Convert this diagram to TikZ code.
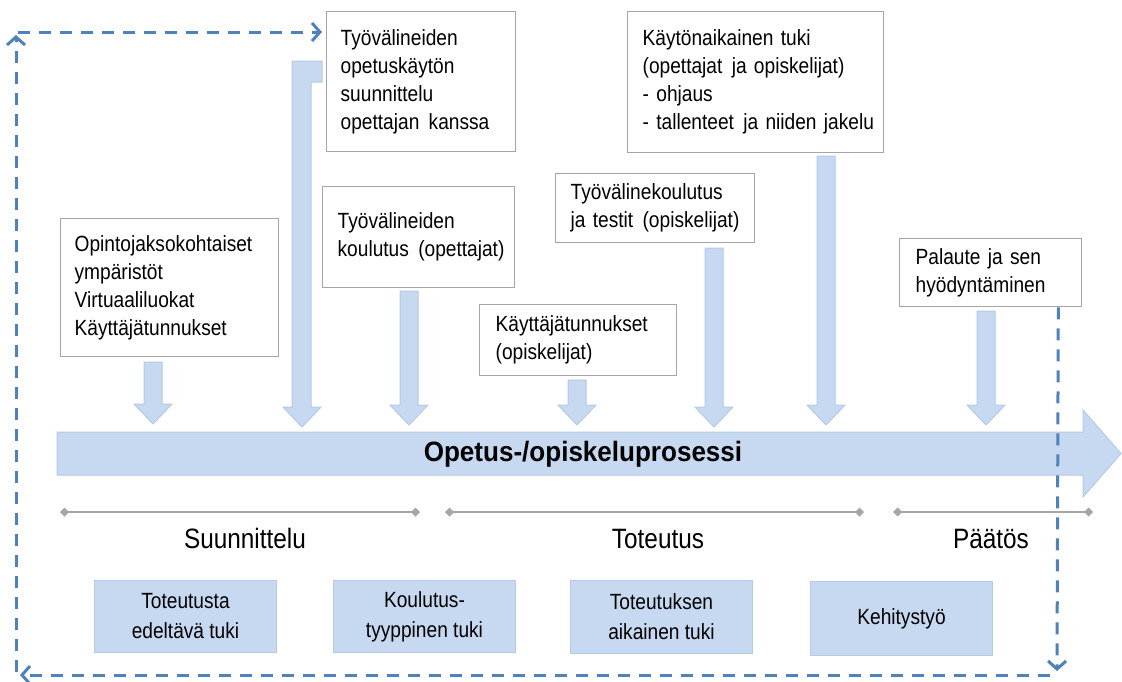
\documentclass[tikz,border=0pt]{standalone}
\usepackage{fontspec}
\setmainfont{Liberation Sans}[FakeStretch=0.87]
\newfontfamily\boldfont{Liberation Sans}[FakeStretch=0.93]
\usetikzlibrary{arrows.meta,calc}
\definecolor{boxline}{HTML}{A6A6A6}
\definecolor{lblue}{HTML}{C6D9F0}
\definecolor{lblueline}{HTML}{B6CAE6}
\definecolor{dblue}{HTML}{4F81BD}
\definecolor{tline}{HTML}{A6A6A6}
\newcommand{\blockarrow}[3]{%
  \draw[barrow] ({#1-9},{#2}) -- ({#1+9},{#2}) -- ({#1+9},{#3-20}) -- ({#1+19},{#3-20}) -- ({#1},{#3}) -- ({#1-19},{#3-20}) -- ({#1-9},{#3-20}) -- cycle;}
\newcommand{\oneline}[1]{\mbox{#1}}
\newcommand{\wsp}{\ \hspace{2pt}}
\begin{document}
\begin{tikzpicture}[x=1pt,y=-1pt,
  wbox/.style={draw=boxline, line width=1.3pt, fill=white, align=left, inner xsep=14pt, inner ysep=0pt,
    font=\fontsize{22}{28}\selectfont, anchor=north west},
  lbox/.style={draw=lblueline, line width=1pt, fill=lblue, align=center, inner sep=0pt,
    font=\fontsize{22}{30}\selectfont, anchor=north west, minimum width=182pt},
  barrow/.style={draw=lblueline, line width=1pt, fill=lblue},
  phase/.style={font=\fontsize{28}{30}\selectfont, anchor=base},
  tl/.style={draw=tline, line width=1.3pt, {Diamond[length=9pt,width=9pt]}-{Diamond[length=9pt,width=9pt]}},
  dloop/.style={draw=dblue, line width=3pt, dash pattern=on 12pt off 9pt, -{Straight Barb[length=8pt,width=18pt]}}
]
\useasboundingbox (0,0) rectangle (1122,681);

% main process arrow
\draw[barrow] (57,432) -- (1083,432) -- (1083,410) -- (1121,453.5) -- (1083,497) -- (1083,475) -- (57,475) -- cycle;
\node[font=\boldfont\fontsize{28}{30}\selectfont\bfseries] (proc) at (583,454) {Opetus-/opiskeluprosessi};

% block arrows
\blockarrow{153}{362}{424}
\draw[barrow] (292,61) -- (322,61) -- (322,82) -- (311,82) -- (311,407) -- (321,407) -- (302,427) -- (283,407) -- (292,407) -- cycle;
\blockarrow{409}{291}{425}
\blockarrow{577}{380}{425}
\blockarrow{714}{248}{427}
\blockarrow{826}{156}{425}
\blockarrow{986}{311}{425}

% white boxes
\node[wbox, minimum width=218pt, minimum height=138pt, text width=190pt] (bA) at (60,218)
  {\oneline{Opintojaksokohtaiset}\\ \oneline{ympäristöt}\\ \oneline{Virtuaaliluokat}\\ \oneline{Käyttäjätunnukset}};
\node[wbox, minimum width=189pt, minimum height=140pt, text width=161pt] (bB) at (326,11)
  {\oneline{Työvälineiden}\\ \oneline{opetuskäytön}\\ \oneline{suunnittelu}\\ \oneline{opettajan\wsp kanssa}};
\node[wbox, minimum width=192pt, minimum height=101pt, text width=162pt, inner xsep=15pt] (bC) at (322,186)
  {\oneline{Työvälineiden}\\ \oneline{koulutus\wsp(opettajat)}};
\node[wbox, minimum width=197pt, minimum height=71pt, text width=165pt, inner xsep=16pt] (bD) at (479,304)
  {\oneline{Käyttäjätunnukset}\\ \oneline{(opiskelijat)}};
\node[wbox, minimum width=199pt, minimum height=69pt, text width=169pt, inner xsep=15pt] (bE) at (555,173)
  {\oneline{Työvälinekoulutus}\\ \oneline{ja testit\wsp(opiskelijat)}};
\node[wbox, minimum width=256pt, minimum height=141pt, text width=226pt, inner xsep=15pt] (bF) at (627,11)
  {\oneline{Käytönaikainen tuki}\\ \oneline{(opettajat\wsp ja opiskelijat)}\\ \oneline{- ohjaus}\\ \oneline{- tallenteet\wsp ja niiden jakelu}};
\node[wbox, minimum width=182pt, minimum height=68pt, text width=150pt, inner xsep=16pt] (bG) at (899,238)
  {\oneline{Palaute ja sen}\\ \oneline{hyödyntäminen}};

% timelines
\draw[tl] (60,512) -- (420,512);
\draw[tl] (445,512) -- (864,512);
\draw[tl] (893,512) -- (1093,512);
\node[phase] (p1) at (245,548) {Suunnittelu};
\node[phase] (p2) at (658,548) {Toteutus};
\node[phase] (p3) at (991,548) {Päätös};

% bottom boxes
\node[lbox, minimum height=72pt] (cA) at (94,580) {Toteutusta\\ edeltävä tuki};
\node[lbox, minimum height=72pt] (cB) at (333,580) {Koulutus-\\ tyyppinen tuki};
\node[lbox, minimum height=73pt] (cC) at (570,580) {Toteutuksen\\ aikainen tuki};
\node[lbox, minimum height=74pt] (cD) at (810,581) {Kehitystyö};

% feedback loop
\coordinate (gout) at ($(bG.south east)+(-24,0)$);
\coordinate (gdown) at (1057,671);
\coordinate (br) at (1050,675);
\coordinate (bl) at (20,675);
\coordinate (lb) at (16,672);
\coordinate (lt) at (16,35);
\coordinate (tl0) at (18,32);
\coordinate (bin) at ($(bB.north west)+(-4,21)$);
\draw[dloop] (gout) -- (gdown);
\draw[dloop] (br) -- (bl);
\draw[dloop] (lb) -- (lt);
\draw[dloop] (tl0) -- (bin);
\end{tikzpicture}
\end{document}
